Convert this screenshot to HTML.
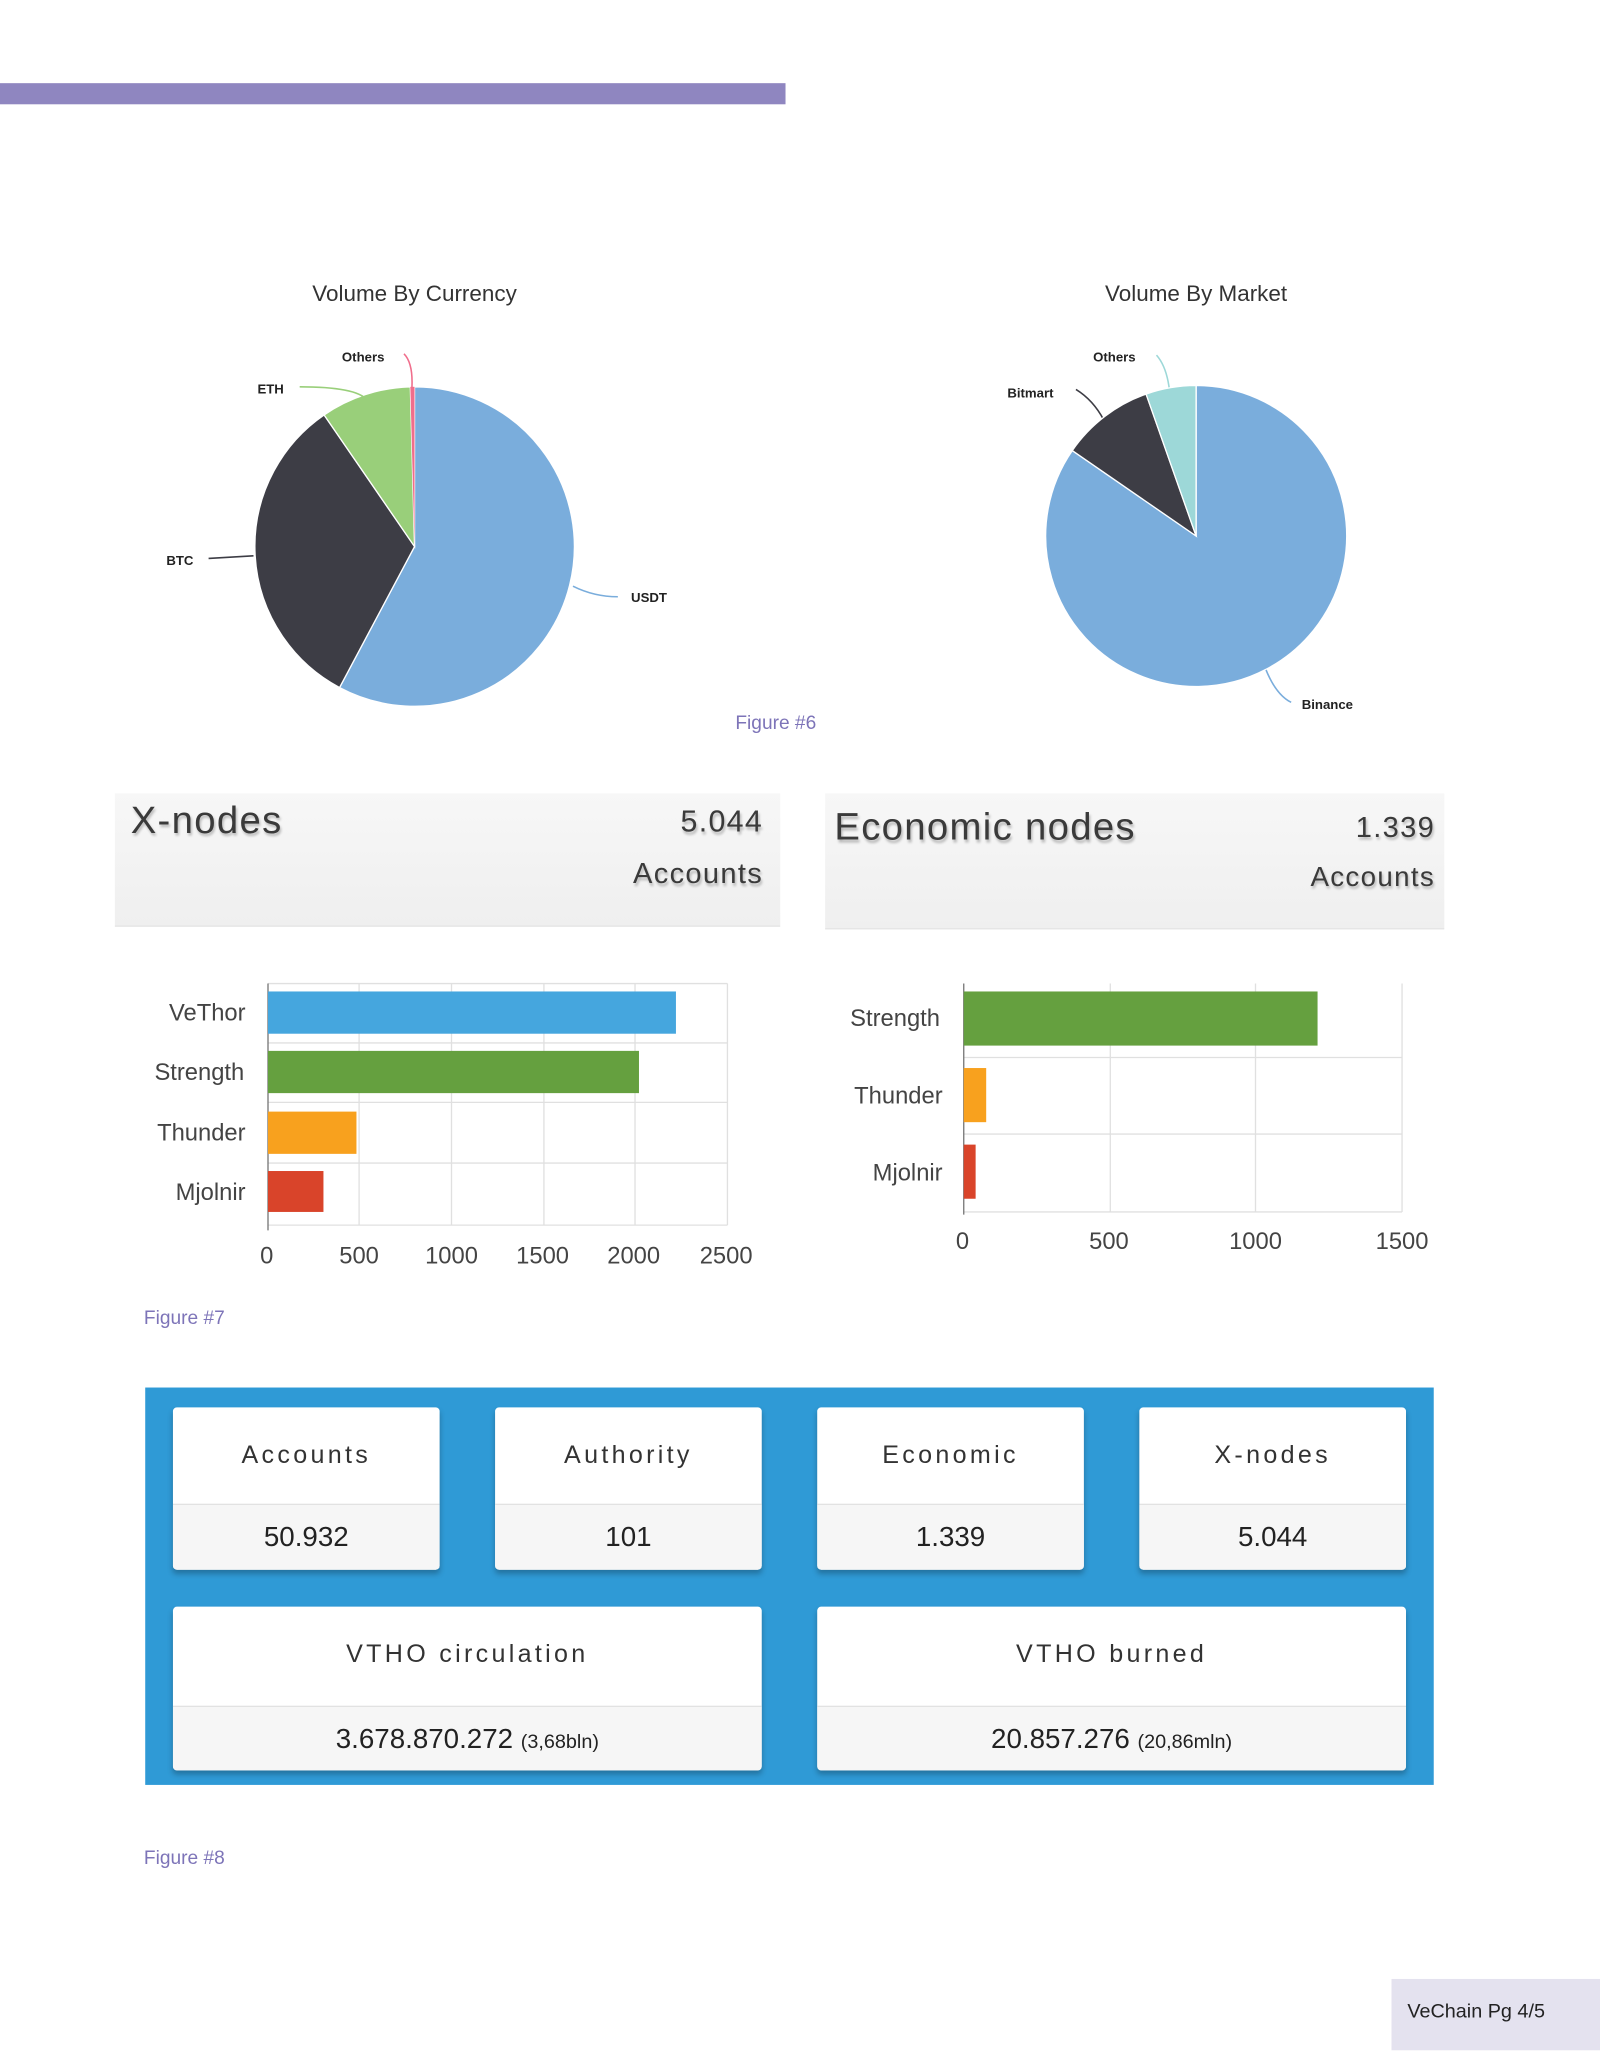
<!DOCTYPE html>
<html><head><meta charset="utf-8">
<style>
html,body{margin:0;padding:0;background:#fff;}
body{width:1600px;height:2070px;overflow:hidden;position:relative;}
#w{position:absolute;left:0;top:0;width:1212px;height:1568px;transform:scale(1.3202);transform-origin:0 0;font-family:"Liberation Sans",sans-serif;}
.a{position:absolute;}
.hdr{background:linear-gradient(#f7f7f7,#efefef);border-bottom:1px solid #e3e3e3;color:#3a3a3a;text-shadow:1px 2px 2px rgba(0,0,0,.25);letter-spacing:1px;}
.card{position:absolute;background:#fff;border-radius:3px;box-shadow:0 3px 4px rgba(0,0,0,.25);overflow:hidden;}
.card .t{height:73px;line-height:73px;text-align:center;font-size:19px;letter-spacing:2.5px;color:#333;border-bottom:1px solid #e2e2e2;}
.card .v{background:#f6f6f6;height:52px;line-height:50px;text-align:center;font-size:21px;color:#222;}
.fig{color:#7d74b8;font-size:14.5px;}
</style></head><body><div id="w">
<div class="a" style="left:0;top:63px;width:595px;height:16px;background:#8f86c0"></div>

<svg class="a" style="left:0;top:0" width="1212" height="1000" font-family="Liberation Sans, sans-serif">
<text x="314" y="228" text-anchor="middle" font-size="17" fill="#333">Volume By Currency</text>
<text x="906" y="228" text-anchor="middle" font-size="17" fill="#333">Volume By Market</text>
<path d="M314 414 L314 293 A121 121 0 1 1 257.2 520.8Z" fill="#7aaddc" stroke="#fff"/>
<path d="M314 414 L257.2 520.8 A121 121 0 0 1 245.5 314.3Z" fill="#3d3d45" stroke="#fff"/>
<path d="M314 414 L245.5 314.3 A121 121 0 0 1 310.8 293Z" fill="#99cf7a" stroke="#fff"/>
<path d="M314 414 L310.8 293 A121 121 0 0 1 314 293Z" fill="#f06e8c"/>
<g font-size="10" font-weight="bold" fill="#222">
<text x="126" y="428">BTC</text><text x="195" y="298">ETH</text><text x="259" y="274">Others</text><text x="478" y="456">USDT</text>
<text x="763" y="301">Bitmart</text><text x="828" y="274">Others</text><text x="986" y="537">Binance</text></g>
<g fill="none" stroke-width="1.2">
<path d="M158 423 L192 421" stroke="#3d3d45"/>
<path d="M227 293 Q270 293 278 303" stroke="#99cf7a"/>
<path d="M306 268 Q313 275 312 294" stroke="#f06e8c"/>
<path d="M434 444 Q450 452 468 452" stroke="#7aaddc"/>
<path d="M815 295 Q828 303 836 318" stroke="#3d3d45"/>
<path d="M876 269 Q884 278 886 297" stroke="#9dd8d8"/>
<path d="M958 505 Q966 526 978 532" stroke="#7aaddc"/></g>
<path d="M906 406 L906 292 A114 114 0 1 1 812.2 341.3Z" fill="#7aaddc" stroke="#fff"/>
<path d="M906 406 L812.2 341.3 A114 114 0 0 1 868.1 298.5Z" fill="#3d3d45" stroke="#fff"/>
<path d="M906 406 L868.1 298.5 A114 114 0 0 1 906 292Z" fill="#9dd8d8" stroke="#fff"/>

<g stroke="#e0e0e0" stroke-width="1">
<line x1="272" y1="745" x2="272" y2="928"/><line x1="342" y1="745" x2="342" y2="928"/><line x1="412" y1="745" x2="412" y2="928"/><line x1="481" y1="745" x2="481" y2="928"/><line x1="551" y1="745" x2="551" y2="928"/>
<line x1="203" y1="745" x2="551" y2="745"/><line x1="203" y1="790" x2="551" y2="790"/><line x1="203" y1="835" x2="551" y2="835"/><line x1="203" y1="881" x2="551" y2="881"/><line x1="203" y1="928" x2="551" y2="928"/>
<line x1="841" y1="745" x2="841" y2="918"/><line x1="951" y1="745" x2="951" y2="918"/><line x1="1062" y1="745" x2="1062" y2="918"/>
<line x1="730" y1="801" x2="1062" y2="801"/><line x1="730" y1="859" x2="1062" y2="859"/><line x1="730" y1="918" x2="1062" y2="918"/></g>
<line x1="203" y1="745" x2="203" y2="932" stroke="#777"/>
<line x1="730" y1="745" x2="730" y2="920" stroke="#777"/>
<rect x="203" y="751" width="309" height="32" fill="#45a6de"/>
<rect x="203" y="796" width="281" height="32" fill="#65a03f"/>
<rect x="203" y="842" width="67" height="32" fill="#f8a11e"/>
<rect x="203" y="887" width="42" height="31" fill="#d9442a"/>
<rect x="730" y="751" width="268" height="41" fill="#65a03f"/>
<rect x="730" y="809" width="17" height="41" fill="#f8a11e"/>
<rect x="730" y="867" width="9" height="41" fill="#d9442a"/>
<g font-size="18" fill="#444" text-anchor="end">
<text x="186" y="773">VeThor</text><text x="185" y="818">Strength</text><text x="186" y="864">Thunder</text><text x="186" y="909">Mjolnir</text>
<text x="712" y="777">Strength</text><text x="714" y="836">Thunder</text><text x="714" y="894">Mjolnir</text></g>
<g font-size="18" fill="#444" text-anchor="middle">
<text x="202" y="957">0</text><text x="272" y="957">500</text><text x="342" y="957">1000</text><text x="411" y="957">1500</text><text x="480" y="957">2000</text><text x="550" y="957">2500</text>
<text x="729" y="946">0</text><text x="840" y="946">500</text><text x="951" y="946">1000</text><text x="1062" y="946">1500</text></g>
</svg>
<div class="a fig" style="left:557px;top:540px">Figure #6</div>
<div class="a fig" style="left:109px;top:991px">Figure #7</div>
<div class="a fig" style="left:109px;top:1400px">Figure #8</div>

<div class="a hdr" style="left:87px;top:601px;width:504px;height:100px">
<div class="a" style="left:12px;top:5px;font-size:29px">X-nodes</div>
<div class="a" style="right:13px;top:8px;font-size:23px">5.044</div>
<div class="a" style="right:13px;top:48px;font-size:22px">Accounts</div></div>
<div class="a hdr" style="left:625px;top:601px;width:469px;height:102px">
<div class="a" style="left:7px;top:10px;font-size:29px">Economic nodes</div>
<div class="a" style="right:7px;top:13px;font-size:22px">1.339</div>
<div class="a" style="right:7px;top:52px;font-size:21px">Accounts</div></div>

<div class="a" style="left:110px;top:1051px;width:976px;height:301px;background:#2f9ad6"></div>
<div class="card" style="left:131px;top:1066px;width:202px;height:123px"><div class="t">Accounts</div><div class="v">50.932</div></div>
<div class="card" style="left:375px;top:1066px;width:202px;height:123px"><div class="t">Authority</div><div class="v">101</div></div>
<div class="card" style="left:619px;top:1066px;width:202px;height:123px"><div class="t">Economic</div><div class="v">1.339</div></div>
<div class="card" style="left:863px;top:1066px;width:202px;height:123px"><div class="t">X-nodes</div><div class="v">5.044</div></div>
<div class="card" style="left:131px;top:1217px;width:446px;height:124px"><div class="t" style="height:75px;line-height:73px">VTHO circulation</div><div class="v">3.678.870.272 <span style="font-size:15px">(3,68bln)</span></div></div>
<div class="card" style="left:619px;top:1217px;width:446px;height:124px"><div class="t" style="height:75px;line-height:73px">VTHO burned</div><div class="v">20.857.276 <span style="font-size:15px">(20,86mln)</span></div></div>

<div class="a" style="left:1054px;top:1499px;width:158px;height:54px;background:#e4e2ef;font-size:15px;line-height:50px;color:#222"><span style="margin-left:12px">VeChain Pg 4/5</span></div>
</div></body></html>
